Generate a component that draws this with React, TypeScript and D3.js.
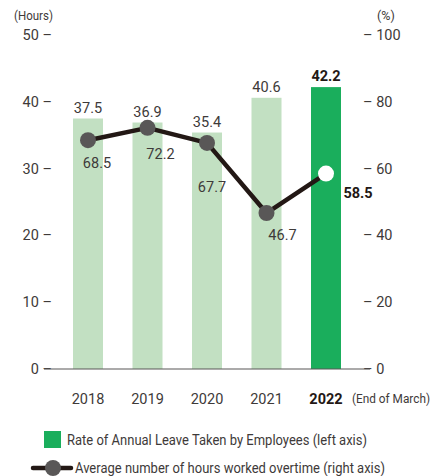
import React from 'react';
import * as d3 from 'd3';

const years = ['2018', '2019', '2020', '2021', '2022'];
const leaveHours = [37.5, 36.9, 35.4, 40.6, 42.2];
const overtimePct = [68.5, 72.2, 67.7, 46.7, 58.5];
const leftTicks = [0, 10, 20, 30, 40, 50];
const rightTicks = [0, 20, 40, 60, 80, 100];

// label offsets for the line values (relative to the marker)
const lineLabelOffsets: [number, number][] = [[9, 28], [13, 31], [5, 49], [16, 27], [32, 24]];

const FONT = "Roboto, 'DejaVu Sans Condensed', sans-serif";
const TEXT = '#3e3a39';
const LIGHT = '#c2e0c2';
const DARK = '#1aae5c';
const LINE = '#231815';
const DOT = '#595757';

export default function App() {
  const width = 441;
  const height = 476;

  const x = d3.scalePoint<string>().domain(years).range([88, 326]);
  const yL = d3.scaleLinear().domain([0, 50]).range([369, 35]);
  const yR = d3.scaleLinear().domain([0, 100]).range([369, 35]);
  const barW = 30;
  const last = years.length - 1;
  const fs = 14.5;

  const line = d3
    .line<number>()
    .x((_, i) => x(years[i]) as number)
    .y((d) => yR(d));

  return (
    <svg
      width={width}
      height={height}
      style={{ position: 'absolute', left: 0, top: 0, background: '#fff' }}
      fontFamily={FONT}
    >
      <text x={14} y={20} fontSize={12.5} fill={TEXT} textLength={39} lengthAdjust="spacingAndGlyphs">(Hours)</text>
      <text x={377} y={20} fontSize={12.5} fill={TEXT}>(%)</text>

      {leftTicks.map((t) => (
        <text key={t} x={52} y={yL(t) + 5} fontSize={fs} fill={TEXT} textAnchor="end">
          {t} –
        </text>
      ))}
      {rightTicks.map((t) => (
        <text key={t} x={363} y={yR(t) + 5} fontSize={fs} fill={TEXT}>
          – {t}
        </text>
      ))}

      {leaveHours.map((v, i) => (
        <rect
          key={years[i]}
          x={(x(years[i]) as number) - barW / 2}
          y={yL(v)}
          width={barW}
          height={yL(0) - yL(v)}
          fill={i === last ? DARK : LIGHT}
        />
      ))}

      <line x1={44} x2={370} y1={yL(0)} y2={yL(0)} stroke="#595757" strokeWidth={1.2} />

      {leaveHours.map((v, i) => (
        <text
          key={years[i]}
          x={x(years[i]) as number}
          y={yL(v) - 6}
          fontSize={fs}
          fontWeight={i === last ? 'bold' : 'normal'}
          fill={i === last ? '#231815' : TEXT}
          textAnchor="middle"
        >
          {v.toFixed(1)}
        </text>
      ))}

      <path d={line(overtimePct) || ''} fill="none" stroke={LINE} strokeWidth={4.5} strokeLinejoin="round" />
      {overtimePct.map((v, i) => (
        <circle
          key={years[i]}
          cx={x(years[i]) as number}
          cy={yR(v)}
          r={8}
          fill={i === last ? '#fff' : DOT}
        />
      ))}
      {overtimePct.map((v, i) => (
        <text
          key={years[i]}
          x={(x(years[i]) as number) + lineLabelOffsets[i][0]}
          y={yR(v) + lineLabelOffsets[i][1]}
          fontSize={fs}
          fontWeight={i === last ? 'bold' : 'normal'}
          fill={i === last ? '#231815' : TEXT}
          textAnchor="middle"
        >
          {v.toFixed(1)}
        </text>
      ))}

      {years.map((yr, i) => (
        <text
          key={yr}
          x={x(yr) as number}
          y={404}
          fontSize={fs}
          fontWeight={i === last ? 'bold' : 'normal'}
          fill={i === last ? '#231815' : TEXT}
          textAnchor="middle"
        >
          {yr}
        </text>
      ))}
      <text x={352} y={403} fontSize={12.5} fill={TEXT} textLength={78} lengthAdjust="spacingAndGlyphs">
        (End of March)
      </text>

      <rect x={44} y={431} width={17} height={17} fill={DARK} />
      <text x={67} y={445} fontSize={14} fill={TEXT} textLength={300} lengthAdjust="spacingAndGlyphs">
        Rate of Annual Leave Taken by Employees (left axis)
      </text>
      <line x1={33} x2={71} y1={468} y2={468} stroke={LINE} strokeWidth={4.5} strokeLinecap="round" />
      <circle cx={53} cy={468} r={8} fill={DOT} />
      <text x={75} y={473} fontSize={14} fill={TEXT} textLength={310} lengthAdjust="spacingAndGlyphs">
        Average number of hours worked overtime (right axis)
      </text>
    </svg>
  );
}
